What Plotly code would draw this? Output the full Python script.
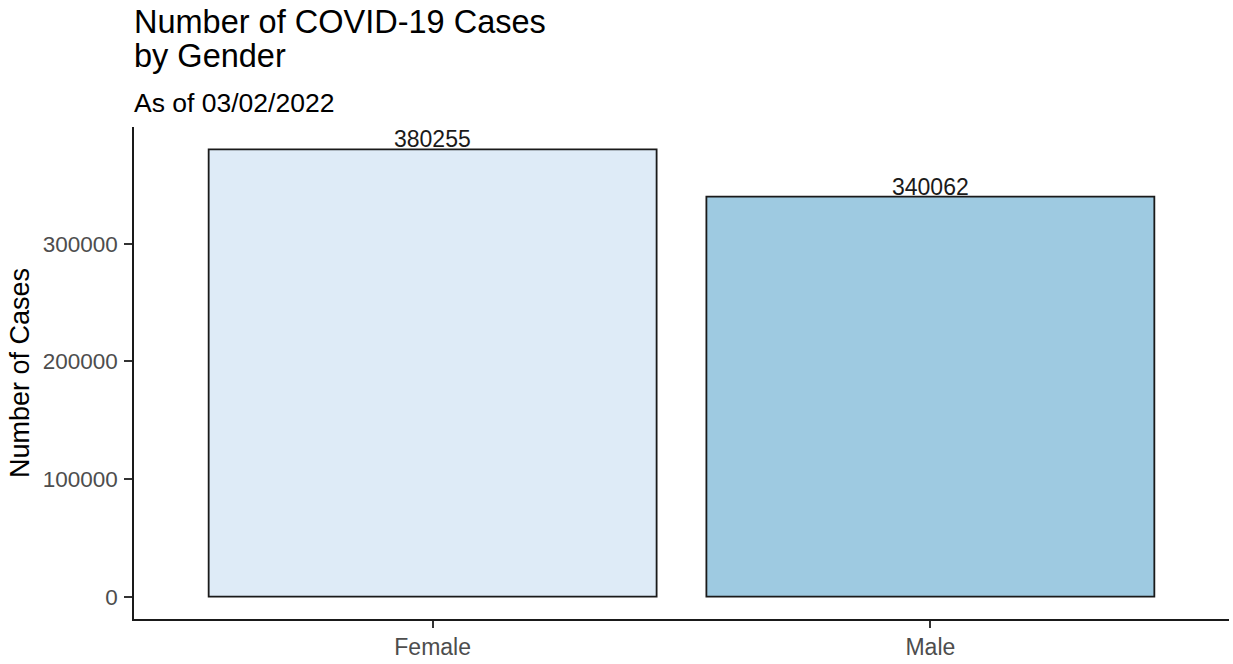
import plotly.graph_objs as go

# data
genders = ['Female', 'Male']
cases = [380255, 340062]
bar_colors = ['#DEEBF7', '#9ECAE1']
y_ticks = [0, 100000, 200000, 300000]

title_lines = ['Number of COVID-19 Cases', 'by Gender']
subtitle_text = 'As of 03/02/2022'

FONT = 'Liberation Sans, Arial, sans-serif'

# plot area in pixels (ggplot-like panel)
M_L, M_R, M_T, M_B = 134, 4, 127, 41
H = 664
PANEL_H = H - M_T - M_B
PANEL_BOTTOM = H - M_B


def paper_y(px):
    # pixel row from the top -> paper coordinate
    return (PANEL_BOTTOM - px) / PANEL_H


fig = go.Figure()

fig.add_trace(go.Bar(
    x=genders,
    y=cases,
    width=0.9,
    marker={
        'color': bar_colors,
        'line': {'color': '#1a1a1a', 'width': 1.8},
    },
    showlegend=False,
    hoverinfo='x+y',
))

# value labels sitting on top of each bar
for g, v in zip(genders, cases):
    fig.add_annotation(
        x=g, y=v, text=str(v),
        xref='x', yref='y',
        yanchor='bottom', showarrow=False,
        yshift=-5,
        font={'family': FONT, 'size': 23, 'color': '#1a1a1a'},
    )

# title (two lines, ggplot-like tight line spacing) + subtitle
for line, top in zip(title_lines, [1, 35]):
    fig.add_annotation(
        text=line,
        xref='paper', yref='paper',
        x=0, y=paper_y(top),
        xanchor='left', yanchor='top',
        xshift=-2,
        showarrow=False,
        font={'family': FONT, 'size': 32.5, 'color': '#000000'},
    )

fig.add_annotation(
    text=subtitle_text,
    xref='paper', yref='paper',
    x=0, y=paper_y(86),
    xanchor='left', yanchor='top',
    xshift=-2,
    showarrow=False,
    font={'family': FONT, 'size': 26.5, 'color': '#000000'},
)

# ggplot style expansion: 5% on y, 0.6 units on discrete x
ymax = max(cases)
y_range = [-0.05 * ymax, 1.05 * ymax]

fig.update_layout(
    width=1233,
    height=H,
    margin={'l': M_L, 'r': M_R, 't': M_T, 'b': M_B},
    plot_bgcolor='white',
    paper_bgcolor='white',
    font={'family': FONT, 'color': '#000000'},
)

fig.update_xaxes(
    range=[-0.6, 1.6],
    showline=True,
    linecolor='#1a1a1a',
    linewidth=1.5,
    ticks='outside',
    ticklen=7,
    tickwidth=1.5,
    tickcolor='#333333',
    tickfont={'family': FONT, 'size': 23, 'color': '#4D4D4D'},
    showgrid=False,
    zeroline=False,
    fixedrange=True,
)

fig.update_yaxes(
    range=y_range,
    tickvals=y_ticks,
    ticktext=[str(t) for t in y_ticks],
    showline=True,
    linecolor='#1a1a1a',
    linewidth=1.5,
    ticks='outside',
    ticklen=8,
    tickwidth=1.5,
    tickcolor='#333333',
    tickfont={'family': FONT, 'size': 22.5, 'color': '#4D4D4D'},
    ticklabelstandoff=2,
    showgrid=False,
    zeroline=False,
    title={
        'text': 'Number of Cases',
        'font': {'family': FONT, 'size': 27, 'color': '#000000'},
        'standoff': 5,
    },
    fixedrange=True,
)

fig.write_html(
    'out.html',
    config={'displayModeBar': False},
    post_script="document.body.style.margin='0';",
)
